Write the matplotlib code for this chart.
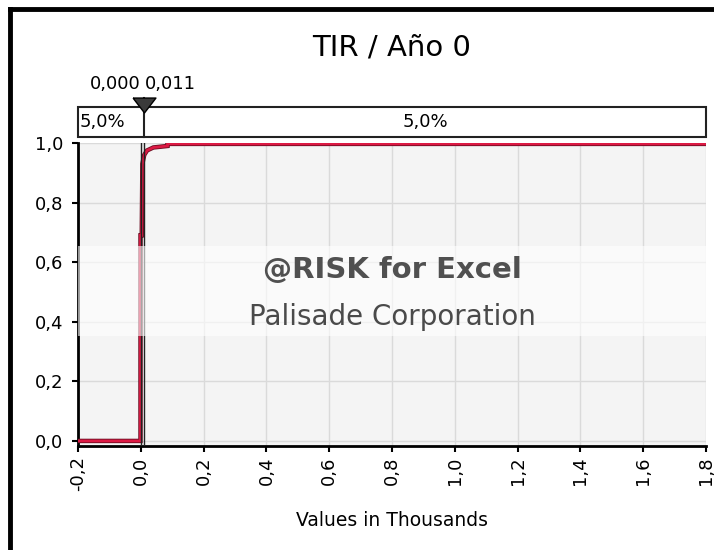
import matplotlib
matplotlib.use("Agg")
import matplotlib.pyplot as plt
import matplotlib.transforms as mtransforms
from matplotlib.lines import Line2D
from matplotlib.patches import Rectangle

# data (values in thousands)
x_vals = [-0.2, -0.001, -0.001, 0.003, 0.005, 0.007, 0.011, 0.020, 0.040, 0.085, 0.085, 1.8]
cdf_vals = [0.0, 0.0, 0.69, 0.69, 0.93, 0.94, 0.96, 0.975, 0.985, 0.99, 0.997, 0.997]
x_ticks = [-0.2, 0.0, 0.2, 0.4, 0.6, 0.8, 1.0, 1.2, 1.4, 1.6, 1.8]
y_ticks = [0.0, 0.2, 0.4, 0.6, 0.8, 1.0]
markers = [0.000, 0.011]
pct_left = "5,0%"
pct_right = "5,0%"

def comma(v, nd):
    return f"{v:.{nd}f}".replace(".", ",")

W, H = 714, 550
fig = plt.figure(figsize=(W / 100, H / 100), dpi=100)
fig.patch.set_facecolor("white")
plt.rcParams["font.family"] = ["DejaVu Sans"]

ax = fig.add_axes([78 / W, 1 - 446 / H, (706 - 78) / W, (446 - 143) / H])
ax.set_facecolor("#f4f4f4")
ax.set_xlim(-0.2, 1.8)
ax.set_ylim(-0.017, 1.0)

ax.set_xticks(x_ticks)
ax.set_xticklabels([comma(t, 1) for t in x_ticks], rotation=90, fontsize=13)
ax.set_yticks(y_ticks)
ax.set_yticklabels([comma(t, 1) for t in y_ticks], fontsize=13)
ax.tick_params(direction="out", length=4.5, width=1.5, color="black")
ax.tick_params(axis="y", pad=6)
ax.tick_params(axis="x", pad=3)
ax.grid(True, color="#dadada", linewidth=1)
ax.set_axisbelow(True)
for s in ["top", "right"]:
    ax.spines[s].set_visible(False)
for s in ["left", "bottom"]:
    ax.spines[s].set_linewidth(2)
    ax.spines[s].set_color("black")

# cumulative curve
ax.plot(x_vals, cdf_vals, color="#6a0c20", linewidth=3.2, solid_joinstyle="miter",
        solid_capstyle="butt", zorder=3)
ax.plot(x_vals, cdf_vals, color="#dc1a44", linewidth=2.0, solid_joinstyle="miter",
        solid_capstyle="butt", zorder=4)

# marker lines
trans = mtransforms.blended_transform_factory(ax.transData, ax.transAxes)
for m in markers:
    ax.axvline(m, color="#222222", linewidth=1, zorder=5)

# percentage band above the plot
y0, y1 = 1 + 6 / 303, 1 + 36 / 303
ax.add_patch(Rectangle((-0.2, y0), 2.0, y1 - y0, transform=trans, facecolor="white",
                       edgecolor="#222222", linewidth=1.5, clip_on=False, zorder=6))
ax.plot([markers[1], markers[1]], [y0, y1 + 0.03], transform=trans, color="#222222",
        linewidth=1.5, clip_on=False, zorder=7)
ax.text(-0.196, (y0 + y1) / 2, pct_left, transform=trans, ha="left", va="center", fontsize=13, zorder=8)
ax.text((markers[1] + 1.8) / 2, (y0 + y1) / 2, pct_right, transform=trans, ha="center", va="center",
        fontsize=13, zorder=8)
tri = [(-1, 0.65), (1, 0.65), (0, -0.65), (-1, 0.65)]
ax.plot([markers[1]], [1 + 37.5 / 303], transform=trans, marker=tri, markersize=16.5,
        color="#3a3a3a", markeredgecolor="black", clip_on=False, zorder=9)
ax.text(markers[0] - 0.002, 1 + 59 / 303, comma(markers[0], 3), transform=trans, ha="right",
        va="center", fontsize=13)
ax.text(markers[1] + 0.002, 1 + 59 / 303, comma(markers[1], 3), transform=trans, ha="left",
        va="center", fontsize=13)

# watermark band
ax.add_patch(Rectangle((0, 1 - (336 - 143) / 303), 1, 90 / 303, transform=ax.transAxes,
                       facecolor="white", alpha=0.6, edgecolor="none", zorder=10))
ax.text(0.5, 1 - (270 - 143) / 303, "@RISK for Excel", transform=ax.transAxes, ha="center",
        va="center", fontsize=21, fontweight="bold", color="#505050", zorder=11)
ax.text(0.5, 1 - (317 - 143) / 303, "Palisade Corporation", transform=ax.transAxes, ha="center",
        va="center", fontsize=20, color="#4a4a4a", zorder=11)

fig.text(392 / W, 1 - 47 / H, "TIR / Año 0", ha="center", va="center", fontsize=21)
fig.text(392 / W, 1 - 521 / H, "Values in Thousands", ha="center", va="center", fontsize=13.5)

# outer frame
fig.add_artist(Line2D([10 / W, 1], [1 - 8.5 / H, 1 - 8.5 / H], color="black", linewidth=3.5))
fig.add_artist(Line2D([10 / W, 10 / W], [0, 1 - 8.5 / H], color="black", linewidth=3.5))

fig.savefig("out.png", dpi=100)
